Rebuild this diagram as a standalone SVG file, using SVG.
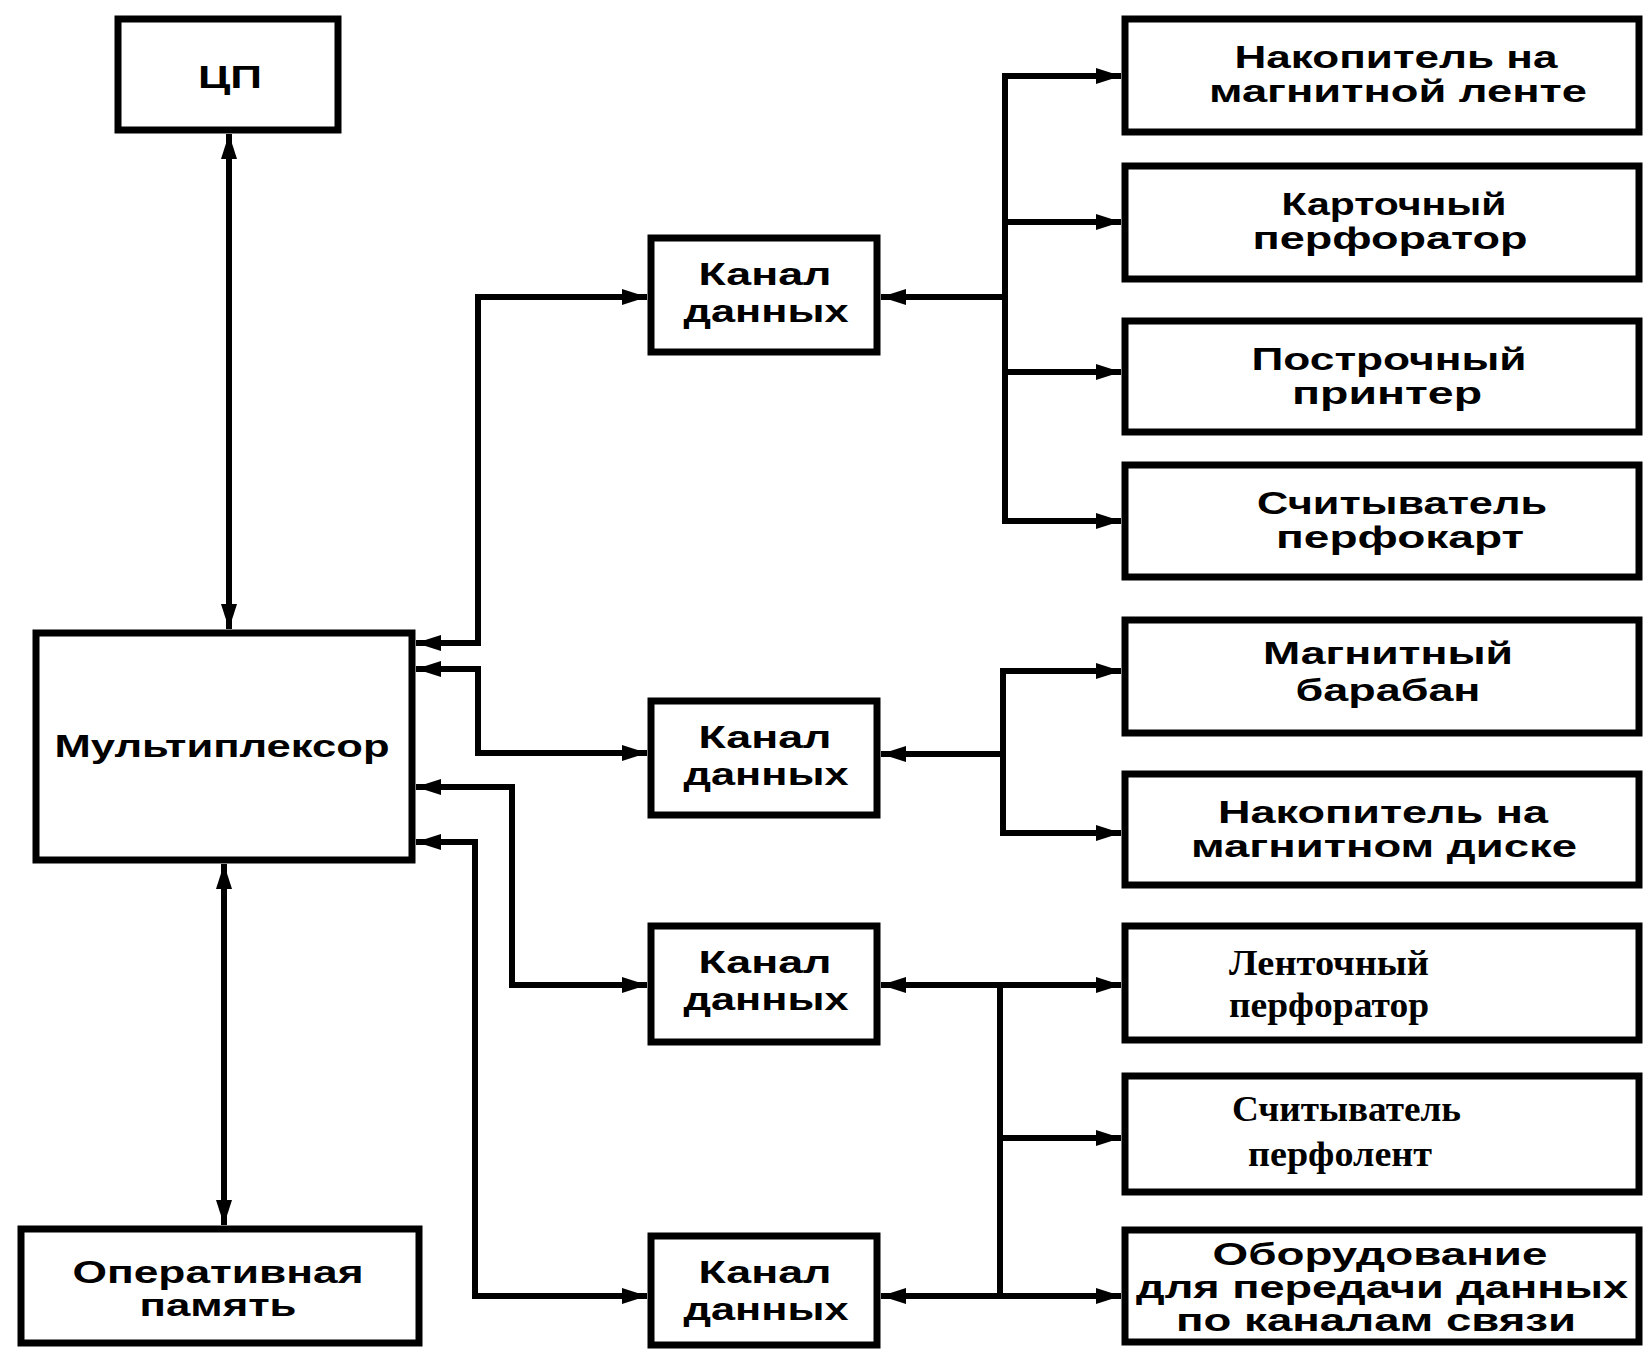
<svg xmlns="http://www.w3.org/2000/svg" width="1645" height="1350" viewBox="0 0 1645 1350">
<defs>
<marker id="ah" markerUnits="userSpaceOnUse" markerWidth="26" markerHeight="18" refX="25" refY="9" orient="auto-start-reverse" viewBox="0 0 26 18">
<path d="M0,1 L25,9 L0,17 z" fill="#000"/>
</marker>
<style>
.box{fill:#fff;stroke:#000;stroke-width:7}
.ln{fill:none;stroke:#000;stroke-width:6;stroke-linejoin:miter}
.a{marker-end:url(#ah)}
.aa{marker-start:url(#ah);marker-end:url(#ah)}
.as{marker-start:url(#ah)}
.t{font-family:"Liberation Sans",Arial,sans-serif;font-weight:bold;font-size:32px;text-anchor:middle;fill:#000}
.s{font-family:"Liberation Serif","Times New Roman",serif;font-weight:bold;font-size:36px;fill:#000}
</style>
</defs>
<rect width="1645" height="1350" fill="#fff"/>

<g id="connectors">
<path class="ln aa" d="M229,134 L229,629"/>
<path class="ln aa" d="M224,864 L224,1225"/>
<path class="ln aa" d="M416,643 L478,643 L478,297 L647,297"/>
<path class="ln aa" d="M416,669 L478,669 L478,753 L647,753"/>
<path class="ln aa" d="M416,787 L512,787 L512,985 L647,985"/>
<path class="ln aa" d="M416,842 L475,842 L475,1296 L647,1296"/>
<path class="ln as" d="M881,297 L1005,297"/>
<path class="ln" d="M1005,73 L1005,524"/>
<path class="ln a" d="M1003,76 L1121,76"/>
<path class="ln a" d="M1003,222 L1121,222"/>
<path class="ln a" d="M1003,372 L1121,372"/>
<path class="ln a" d="M1003,521 L1121,521"/>
<path class="ln as" d="M881,754 L1003,754"/>
<path class="ln" d="M1003,668 L1003,836"/>
<path class="ln a" d="M1001,671 L1121,671"/>
<path class="ln a" d="M1001,833 L1121,833"/>
<path class="ln aa" d="M881,985 L1121,985"/>
<path class="ln" d="M1000,985 L1000,1299"/>
<path class="ln a" d="M998,1138 L1121,1138"/>
<path class="ln aa" d="M881,1296 L1121,1296"/>
</g>

<g id="cpu">
<rect class="box" x="118" y="19" width="220" height="111"/>
<text class="t" x="230" y="88" font-size="34" textLength="64" lengthAdjust="spacingAndGlyphs">ЦП</text>
</g>
<g id="mux">
<rect class="box" x="36" y="633" width="376" height="227"/>
<text class="t" x="222" y="757" textLength="335" lengthAdjust="spacingAndGlyphs">Мультиплексор</text>
</g>
<g id="ram">
<rect class="box" x="21" y="1229" width="398" height="114"/>
<text class="t" x="218" y="1283" textLength="291" lengthAdjust="spacingAndGlyphs">Оперативная</text>
<text class="t" x="218" y="1316" textLength="157" lengthAdjust="spacingAndGlyphs">память</text>
</g>

<g id="ch1">
<rect class="box" x="651" y="238" width="226" height="114"/>
<text class="t" x="765" y="285" textLength="133" lengthAdjust="spacingAndGlyphs">Канал</text>
<text class="t" x="766" y="322" textLength="165" lengthAdjust="spacingAndGlyphs">данных</text>
</g>
<g id="ch2">
<rect class="box" x="651" y="701" width="226" height="114"/>
<text class="t" x="765" y="748" textLength="133" lengthAdjust="spacingAndGlyphs">Канал</text>
<text class="t" x="766" y="785" textLength="165" lengthAdjust="spacingAndGlyphs">данных</text>
</g>
<g id="ch3">
<rect class="box" x="651" y="926" width="226" height="116"/>
<text class="t" x="765" y="973" textLength="133" lengthAdjust="spacingAndGlyphs">Канал</text>
<text class="t" x="766" y="1010" textLength="165" lengthAdjust="spacingAndGlyphs">данных</text>
</g>
<g id="ch4">
<rect class="box" x="651" y="1236" width="226" height="109"/>
<text class="t" x="765" y="1283" textLength="133" lengthAdjust="spacingAndGlyphs">Канал</text>
<text class="t" x="766" y="1320" textLength="165" lengthAdjust="spacingAndGlyphs">данных</text>
</g>

<g id="d1">
<rect class="box" x="1125" y="19" width="514" height="113"/>
<text class="t" x="1396" y="68" textLength="323" lengthAdjust="spacingAndGlyphs">Накопитель на</text>
<text class="t" x="1398" y="102" textLength="378" lengthAdjust="spacingAndGlyphs">магнитной ленте</text>
</g>
<g id="d2">
<rect class="box" x="1125" y="166" width="514" height="113"/>
<text class="t" x="1394" y="215" textLength="225" lengthAdjust="spacingAndGlyphs">Карточный</text>
<text class="t" x="1390" y="249" textLength="275" lengthAdjust="spacingAndGlyphs">перфоратор</text>
</g>
<g id="d3">
<rect class="box" x="1125" y="321" width="514" height="111"/>
<text class="t" x="1389" y="370" textLength="275" lengthAdjust="spacingAndGlyphs">Построчный</text>
<text class="t" x="1387" y="404" textLength="190" lengthAdjust="spacingAndGlyphs">принтер</text>
</g>
<g id="d4">
<rect class="box" x="1125" y="465" width="514" height="112"/>
<text class="t" x="1402" y="514" textLength="290" lengthAdjust="spacingAndGlyphs">Считыватель</text>
<text class="t" x="1400" y="548" textLength="248" lengthAdjust="spacingAndGlyphs">перфокарт</text>
</g>
<g id="d5">
<rect class="box" x="1125" y="620" width="514" height="113"/>
<text class="t" x="1388" y="664" textLength="250" lengthAdjust="spacingAndGlyphs">Магнитный</text>
<text class="t" x="1388" y="701" textLength="185" lengthAdjust="spacingAndGlyphs">барабан</text>
</g>
<g id="d6">
<rect class="box" x="1125" y="774" width="514" height="111"/>
<text class="t" x="1383" y="823" textLength="330" lengthAdjust="spacingAndGlyphs">Накопитель на</text>
<text class="t" x="1384" y="857" textLength="386" lengthAdjust="spacingAndGlyphs">магнитном диске</text>
</g>
<g id="d7">
<rect class="box" x="1125" y="926" width="514" height="114"/>
<text class="s" x="1229" y="975" textLength="200" lengthAdjust="spacingAndGlyphs">Ленточный</text>
<text class="s" x="1229" y="1017" textLength="200" lengthAdjust="spacingAndGlyphs">перфоратор</text>
</g>
<g id="d8">
<rect class="box" x="1125" y="1076" width="514" height="116"/>
<text class="s" x="1232" y="1121" textLength="229" lengthAdjust="spacingAndGlyphs">Считыватель</text>
<text class="s" x="1248" y="1166" textLength="184" lengthAdjust="spacingAndGlyphs">перфолент</text>
</g>
<g id="d9">
<rect class="box" x="1125" y="1230" width="514" height="112"/>
<text class="t" x="1380" y="1265" font-size="28" textLength="335" lengthAdjust="spacingAndGlyphs">Оборудование</text>
<text class="t" x="1382" y="1298" font-size="28" textLength="492" lengthAdjust="spacingAndGlyphs">для передачи данных</text>
<text class="t" x="1376" y="1331" font-size="28" textLength="400" lengthAdjust="spacingAndGlyphs">по каналам связи</text>
</g>
</svg>
